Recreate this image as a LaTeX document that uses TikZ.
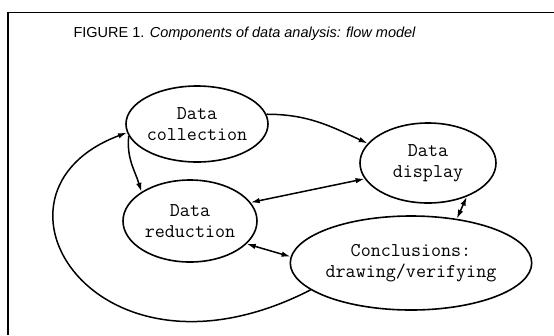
\documentclass[tikz,border=0pt]{standalone}
\usepackage{fontspec}
\setmainfont{Liberation Sans}
\usepackage{tikz}
\usetikzlibrary{arrows.meta}
\usetikzlibrary{shapes.geometric}
\tikzset{>={Latex[length=9pt, width=5.5pt]}}
\tikzset{blob/.style = {draw, ellipse, inner sep = 0, line width = 1.6pt,
                        align = center, font = \ttfamily\fontsize{19.5}{21}\selectfont}}
\tikzset{flow/.style = {line width = 1.5pt}}

\begin{document}
\begin{tikzpicture}[x=1pt, y=1pt]
    \useasboundingbox (0, 0) rectangle (554, -335);
    \draw [line width=1.6pt] (554, -12.5) -- (8, -12.5) -- (8, -335);

    \node [anchor=base west, font=\fontsize{14.5}{16}\selectfont] (title) at (70, -37)
      {FIGURE 1. \textit{Components of data analysis: flow model}};

    \node [blob, minimum width=134, minimum height=76] (coll) at (197, -124) {Data\\collection};
    \node [blob, minimum width=134, minimum height=82] (red) at (190, -221) {Data\\reduction};
    \node [blob, minimum width=136, minimum height=80] (disp) at (428, -163) {Data\\display};
    \node [blob, minimum width=198, minimum height=94] (concl) at (411, -263) {Conclusions:\\drawing/verifying};

    \draw [flow, ->] (coll.8) to [out=0, in=155] (disp.162);
    \draw [flow, ->] (coll.190) to [out=-96, in=107] (red.149);
    \draw [flow, <->] (disp.194) -- (red.17);
    \draw [flow, <->] (disp.-41) -- (concl.44);
    \draw [flow, <->] (red.-22) -- (concl.177);

    \draw [flow, ->] (concl.195) .. controls +(-215, -110) and +(-160, -60) .. (coll.187);

  \end{tikzpicture}
\end{document}
